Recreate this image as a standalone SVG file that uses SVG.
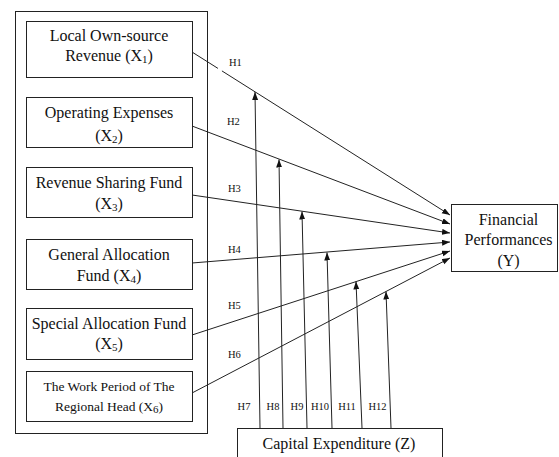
<svg xmlns="http://www.w3.org/2000/svg" width="559" height="457" viewBox="0 0 559 457">
<style>
  .box { fill: #fff; stroke: #222; stroke-width: 1; }
  .t { font-family: "Liberation Serif", "Times New Roman", serif; font-size: 16px; fill: #111; text-anchor: middle; }
  .ts { font-size: 13.5px; }
  .sub { font-size: 11px; }
  .h { font-family: "Liberation Serif", "Times New Roman", serif; font-size: 10.5px; fill: #111; }
  .hc { text-anchor: middle; }
  .c { fill: none; stroke: #222; stroke-width: 1; marker-end: url(#ah); }
</style>
<defs>
  <marker id="ah" markerUnits="userSpaceOnUse" markerWidth="9" markerHeight="7" refX="8" refY="3" orient="auto">
    <path d="M0,0 L8,3 L0,6 z" fill="#111"/>
  </marker>
</defs>
<rect width="559" height="457" fill="#fff"/>

<g id="outer-group">
  <rect class="box" x="15.5" y="11.5" width="192" height="422"/>
</g>

<g id="x1">
  <rect class="box" x="26.5" y="21.5" width="166" height="56"/>
  <text class="t" x="109" y="41">Local Own-source</text>
  <text class="t" x="109" y="61">Revenue (X<tspan class="sub" dy="2">1</tspan><tspan dy="-2">)</tspan></text>
</g>

<g id="x2">
  <rect class="box" x="26.5" y="97.5" width="166" height="50"/>
  <text class="t" x="109" y="118">Operating Expenses</text>
  <text class="t" x="109" y="141">(X<tspan class="sub" dy="2">2</tspan><tspan dy="-2">)</tspan></text>
</g>

<g id="x3">
  <rect class="box" x="26.5" y="167.5" width="166" height="50"/>
  <text class="t" x="109" y="188">Revenue Sharing Fund</text>
  <text class="t" x="109" y="209">(X<tspan class="sub" dy="2">3</tspan><tspan dy="-2">)</tspan></text>
</g>

<g id="x4">
  <rect class="box" x="26.5" y="239.5" width="166" height="50"/>
  <text class="t" x="109" y="259.5">General Allocation</text>
  <text class="t" x="109" y="281">Fund (X<tspan class="sub" dy="2">4</tspan><tspan dy="-2">)</tspan></text>
</g>

<g id="x5">
  <rect class="box" x="26.5" y="308.5" width="166" height="51"/>
  <text class="t" x="109" y="329">Special Allocation Fund</text>
  <text class="t" x="109" y="348.5">(X<tspan class="sub" dy="2">5</tspan><tspan dy="-2">)</tspan></text>
</g>

<g id="x6">
  <rect class="box" x="26.5" y="371.5" width="166" height="50"/>
  <text class="t ts" x="109" y="391">The Work Period of The</text>
  <text class="t ts" x="109" y="411">Regional Head (X<tspan class="sub" font-size="10" dy="2">6</tspan><tspan dy="-2">)</tspan></text>
</g>

<g id="y">
  <rect class="box" x="451.5" y="204.5" width="106" height="67"/>
  <text class="t" x="508.5" y="224.5">Financial</text>
  <text class="t" x="508.5" y="245">Performances</text>
  <text class="t" x="508.5" y="266">(Y)</text>
</g>

<g id="z">
  <rect class="box" x="237.5" y="428.5" width="205" height="40"/>
  <text class="t" x="339" y="449">Capital Expenditure (Z)</text>
</g>

<g id="connectors">
  <path class="c" d="M192,52 L450,215" stroke-dasharray="30.7 4.7 1000"/>
  <path class="c" d="M192,126 L450,224"/>
  <path class="c" d="M192,195 L450,233"/>
  <path class="c" d="M192,263 L450,242"/>
  <path class="c" d="M192,335 L450,251"/>
  <path class="c" d="M192,393 L450,258"/>

  <path class="c" d="M260,428 L255,92"/>
  <path class="c" d="M283,428 L279,159.5"/>
  <path class="c" d="M307,428 L302,211.5"/>
  <path class="c" d="M332,428 L327,252.5"/>
  <path class="c" d="M362,428 L356,281.5"/>
  <path class="c" d="M391,428 L386,291.5"/>

  <text class="h" x="229" y="66">H1</text>
  <text class="h" x="227" y="125">H2</text>
  <text class="h" x="228" y="192">H3</text>
  <text class="h" x="228" y="253">H4</text>
  <text class="h" x="228" y="309">H5</text>
  <text class="h" x="228" y="358">H6</text>
  <text class="h hc" x="244" y="410">H7</text>
  <text class="h hc" x="273" y="410">H8</text>
  <text class="h hc" x="297" y="410">H9</text>
  <text class="h hc" x="320" y="410">H10</text>
  <text class="h hc" x="347" y="410">H11</text>
  <text class="h hc" x="377.5" y="410">H12</text>
</g>
</svg>
